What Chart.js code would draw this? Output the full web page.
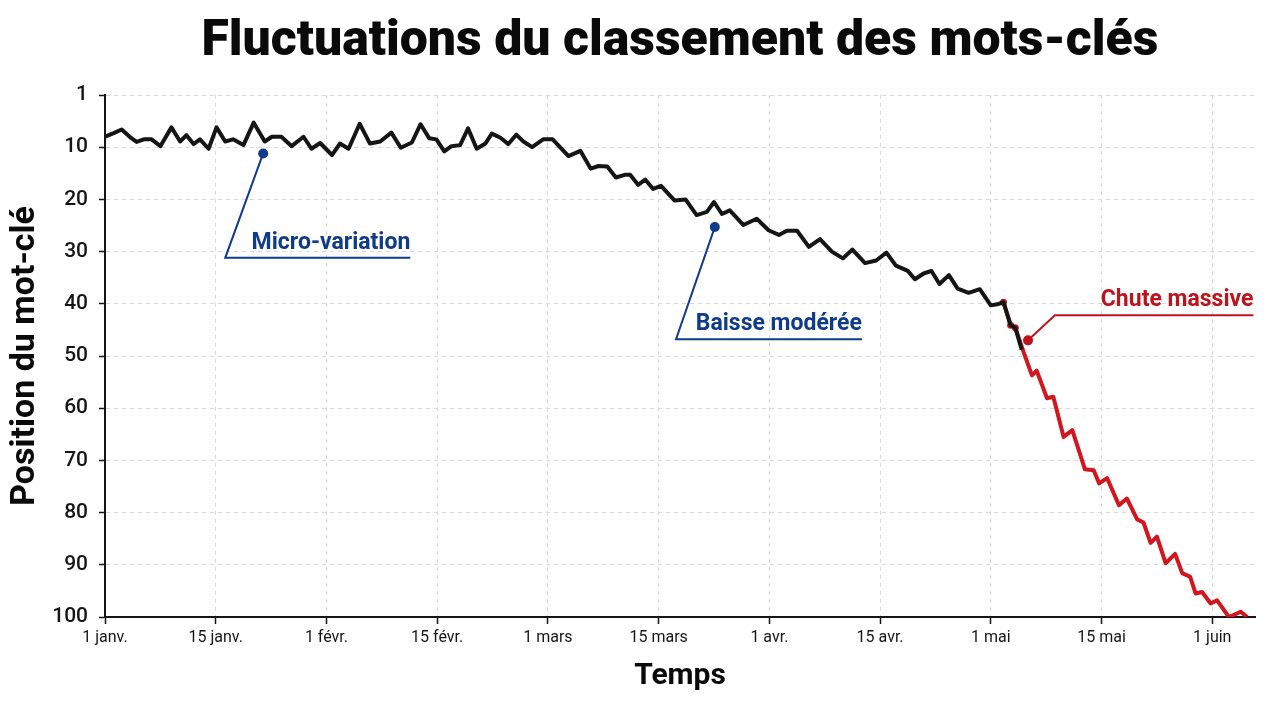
<!DOCTYPE html>
<html lang="fr">
<head>
<meta charset="utf-8">
<title>Fluctuations du classement des mots-clés</title>
<script src="https://cdn.jsdelivr.net/npm/chart.js@4.4.1/dist/chart.umd.min.js"></script>
<style>
  html, body { margin: 0; padding: 0; background: #fff; }
  .chart-box { position: relative; width: 1280px; height: 702px; }
</style>
</head>
<body>
<div class="chart-box"><canvas id="rankChart"></canvas></div>
<script>
/*
  Classement d'un mot-clé dans le temps.
  Axe Y inversé : 1 en haut, 100 en bas.
  x = jours depuis le 1er janvier.
*/

const chartTitle = "Fluctuations du classement des mots-clés";
const xTitle = "Temps";
const yTitle = "Position du mot-clé";

// phase stable puis baisse modérée (noir)
const stableDays = [
  0, 1.1, 2.1, 3.2, 4.0, 4.9, 5.9, 7.0, 8.4, 9.5, 10.3, 11.2, 12.0, 13.1, 14.1, 15.2,
  16.2, 17.5, 18.8, 20.2, 21.1, 22.3, 23.6, 25.1, 26.1, 27.2, 28.7, 29.7, 30.8, 32.2,
  33.5, 34.8, 36.2, 37.4, 38.8, 39.9, 41.0, 41.9, 42.9, 43.8, 44.9, 45.9, 47.0, 48.1,
  48.9, 50.0, 51.0, 52.0, 52.9, 54.0, 55.4, 56.6, 58.6, 60.1, 61.4, 62.4, 63.5, 64.6,
  65.7, 66.4, 67.4, 68.3, 69.3, 70.3, 72.0, 73.4, 74.8, 76.1, 77.0, 78.0, 79.0, 80.7,
  82.4, 83.9, 85.2, 86.2, 87.5, 89.0, 90.4, 91.9, 93.3, 94.5, 96.1, 97.5, 98.8, 100.0,
  101.5, 102.4, 103.5, 104.5, 105.5, 106.7, 107.8, 109.2, 110.6, 112.0, 112.8, 113.6,
  114.5, 115.1, 115.9
];
const stableRanks = [
  8.0, 7.3, 6.6, 8.1, 9.0, 8.5, 8.5, 9.8, 6.2, 8.9, 7.7, 9.4, 8.5, 10.3, 6.2, 8.9,
  8.5, 9.6, 5.3, 8.9, 8.0, 8.0, 9.8, 8.0, 10.3, 9.2, 11.5, 9.3, 10.3, 5.5,
  9.3, 8.9, 7.2, 10.1, 9.1, 5.6, 8.3, 8.5, 10.8, 9.8, 9.6, 6.4, 10.3, 9.3,
  7.4, 8.2, 9.4, 7.6, 8.9, 10.0, 8.5, 8.5, 11.7, 10.7, 14.1, 13.6, 13.7, 15.8,
  15.3, 15.3, 17.2, 16.2, 18.0, 17.4, 20.2, 20.0, 23.0, 22.4, 20.5, 22.8, 22.1, 24.9,
  23.7, 25.9, 26.8, 26.0, 26.0, 29.1, 27.6, 30.0, 31.3, 29.6, 32.2, 31.7, 30.2, 32.7,
  33.7, 35.3, 34.2, 33.7, 36.2, 34.5, 37.1, 37.9, 37.2, 40.3, 40.1, 39.7,
  44.1, 44.6, 48.8
];

// chute massive (rouge)
const dropDays = [
  113.6, 114.5, 115.1, 116.2, 117.2, 117.8, 119.1, 119.9, 121.2, 122.3, 123.9, 125.0,
  125.7, 126.7, 128.2, 129.2, 130.5, 131.3, 132.2, 133.0, 134.1, 135.3, 136.2, 137.2,
  137.9, 138.7, 139.8, 140.6, 142.1, 143.6, 144.4
];
const dropRanks = [
  39.7, 44.1, 44.6, 49.5, 53.7, 52.8, 58.1, 57.8, 65.5, 64.2, 71.7, 71.9,
  74.4, 73.4, 78.6, 77.3, 81.3, 81.9, 85.8, 84.6, 89.7, 87.9, 91.6, 92.3,
  95.5, 95.2, 97.4, 96.8, 100, 99.0, 100
];

const dateTickDays = [0, 14, 28, 42, 56, 70, 84, 98, 112, 126, 140];
const dateTickLabels = ["1 janv.", "15 janv.", "1 févr.", "15 févr.", "1 mars", "15 mars",
                        "1 avr.", "15 avr.", "1 mai", "15 mai", "1 juin"];
const rankTickValues = [0, 10, 20, 30, 40, 50, 60, 70, 80, 90, 100];
const rankTickLabels = ["1", "10", "20", "30", "40", "50", "60", "70", "80", "90", "100"];

const BLUE = "#0f3b8c";
const RED = "#d3161e";
const RED_TEXT = "#c0121c";
const INK = "#151515";

// annotations : point d'ancrage, coude du trait, fin du trait (en unités des axes)
const callouts = [
  { text: "Micro-variation", color: BLUE, dot: [20.0, 11.2], elbow: [15.2, 31.2], end: 38.6 },
  { text: "Baisse modérée", color: BLUE, dot: [77.1, 25.3], elbow: [72.2, 46.8], end: 95.7 },
  { text: "Chute massive", color: RED_TEXT, dot: [116.7, 47.0], elbow: [120.1, 42.2], end: 145.2 }
];

function toXY(days, ranks) {
  return days.map((d, i) => ({ x: d, y: ranks[i] }));
}

const calloutPlugin = {
  id: "callouts",
  afterDatasetsDraw(chart) {
    const { ctx } = chart;
    const x = chart.scales.x, y = chart.scales.y;
    callouts.forEach(c => {
      const dx = x.getPixelForValue(c.dot[0]);
      const dy = y.getPixelForValue(c.dot[1]);
      const ex = x.getPixelForValue(c.elbow[0]);
      const ey = y.getPixelForValue(c.elbow[1]);
      const rx = x.getPixelForValue(c.end);
      ctx.save();
      ctx.strokeStyle = c.color;
      ctx.lineWidth = 2;
      ctx.beginPath();
      ctx.moveTo(dx, dy);
      ctx.lineTo(ex, ey);
      ctx.lineTo(rx, ey);
      ctx.stroke();
      ctx.fillStyle = c.color;
      ctx.beginPath();
      ctx.arc(dx, dy, 5, 0, Math.PI * 2);
      ctx.fill();
      ctx.font = "bold 23px Roboto";
      ctx.textAlign = "right";
      ctx.textBaseline = "alphabetic";
      ctx.fillText(c.text, rx, ey - 9);
      ctx.restore();
    });
  }
};

const titlePlugin = {
  id: "bigTitle",
  afterDraw(chart) {
    const { ctx, chartArea } = chart;
    ctx.save();
    ctx.font = "900 50px Roboto";
    ctx.fillStyle = "#0a0a0a";
    ctx.textAlign = "center";
    ctx.textBaseline = "alphabetic";
    ctx.fillText(chartTitle, (chartArea.left + chartArea.right) / 2, 55);
    ctx.restore();
  }
};

new Chart(document.getElementById("rankChart"), {
  type: "line",
  data: {
    datasets: [
      {
        label: "Classement",
        data: toXY(stableDays, stableRanks),
        borderColor: INK,
        borderWidth: 4,
        borderJoinStyle: "round",
        pointRadius: 0,
        tension: 0,
        order: 0
      },
      {
        label: "Chute",
        data: toXY(dropDays, dropRanks),
        borderColor: RED,
        borderWidth: 4,
        borderJoinStyle: "round",
        pointRadius: ctx => (ctx.dataIndex < 3 ? 3.5 : 0),
        pointBackgroundColor: RED,
        pointBorderWidth: 0,
        tension: 0,
        order: 1
      }
    ]
  },
  options: {
    responsive: true,
    maintainAspectRatio: false,
    animation: false,
    layout: { padding: { top: 95, right: 25, bottom: 0, left: 0 } },
    plugins: {
      legend: { display: false },
      tooltip: { enabled: false }
    },
    scales: {
      x: {
        type: "linear",
        min: 0,
        max: 145.4,
        afterBuildTicks: s => { s.ticks = dateTickDays.map(v => ({ value: v })); },
        afterFit: s => { s.height = 85; },
        ticks: {
          autoSkip: false,
          maxRotation: 0,
          padding: 4,
          color: INK,
          font: { family: "Roboto", size: 16 },
          callback: (v, i) => dateTickLabels[i]
        },
        grid: { color: "#d9d9d9", lineWidth: 1, tickColor: INK, tickLength: 7, tickWidth: 1.5 },
        border: { color: INK, width: 2, dash: [4, 4] },
        title: {
          display: true,
          text: xTitle,
          color: "#0a0a0a",
          font: { family: "Roboto", size: 30, weight: "bold" },
          padding: { top: 0, bottom: 8 }
        }
      },
      y: {
        type: "linear",
        reverse: true,
        min: 0,
        max: 100,
        afterBuildTicks: s => { s.ticks = rankTickValues.map(v => ({ value: v })); },
        afterFit: s => { s.width = 105; },
        ticks: {
          padding: 11,
          color: INK,
          font: { family: "Roboto", size: 21, weight: "500" },
          callback: (v, i) => rankTickLabels[i]
        },
        grid: { color: "#d9d9d9", lineWidth: 1, tickColor: INK, tickLength: 6, tickWidth: 1.5 },
        border: { color: INK, width: 2, dash: [4, 4] },
        title: {
          display: true,
          text: yTitle,
          color: "#0a0a0a",
          font: { family: "Roboto", size: 34, weight: "bold" },
          padding: { top: 5, bottom: 0 }
        }
      }
    }
  },
  plugins: [calloutPlugin, titlePlugin]
});
</script>
</body>
</html>
